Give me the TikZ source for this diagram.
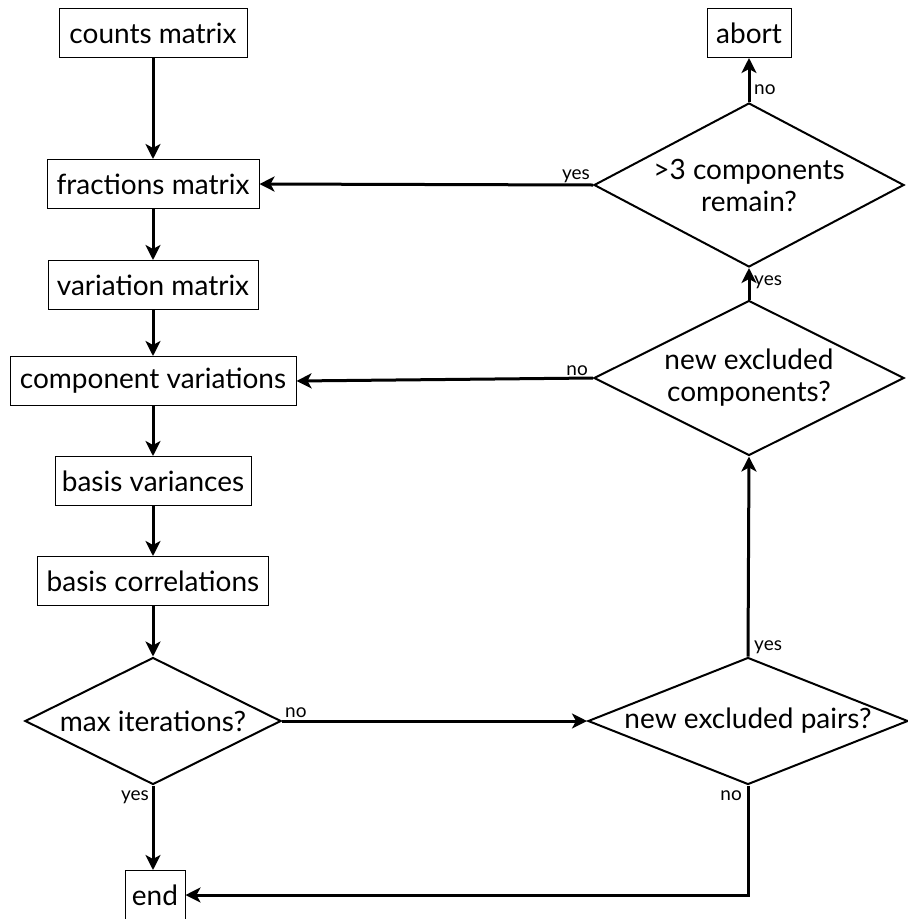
\documentclass[tikz,border=0pt]{standalone}
\usepackage{fontspec}
\setmainfont{Lato}
\usetikzlibrary{shapes.geometric,arrows.meta}

\begin{document}
\begin{tikzpicture}[x=1pt, y=-1pt,
  every node/.style={font=\fontsize{28}{32}\selectfont},
  stepbox/.style={draw, line width=1pt, minimum height=49pt, inner xsep=4pt},
  test/.style={diamond, draw, line width=2pt, inner sep=0pt, align=center},
  flow/.style={line width=3pt, -{Stealth[length=15pt, width=15pt, inset=4pt]}},
  tag/.style={font=\fontsize{19}{21}\selectfont, inner sep=1pt}]
  \useasboundingbox (0,0) rectangle (908,919);
  \node [stepbox, minimum width=188pt] (counts) at (153,33) {counts matrix};
  \node [stepbox, minimum width=212pt] (fractions) at (153,184) {fractions matrix};
  \node [stepbox, minimum width=210pt] (variation) at (153,285) {variation matrix};
  \node [stepbox, minimum width=286pt] (component) at (153,381) {component variations};
  \node [stepbox, minimum width=196pt] (basisvar) at (153,481) {basis variances};
  \node [stepbox, minimum width=231pt] (basiscorr) at (153,581) {basis correlations};
  \node [test, aspect=2, minimum width=256pt, minimum height=127pt] (maxit) at (153,721) {max iterations?};
  \node [stepbox, minimum width=60pt] (end) at (155,895) {end};
  \node [stepbox, minimum width=84pt] (abort) at (749,33) {abort};
  \node [test, aspect=1.9, minimum width=310pt, minimum height=164pt] (remain) at (749,185) {>3 components\\remain?};
  \node [test, aspect=2, minimum width=310pt, minimum height=155pt] (newcomp) at (749,378) {new excluded\\components?};
  \node [test, aspect=2.5, minimum width=320pt, minimum height=127pt] (pairs) at (748,721) {new excluded pairs?};
  \draw [flow] (counts) -- (fractions);
  \draw [flow] (fractions) -- (variation);
  \draw [flow] (variation) -- (component);
  \draw [flow] (component) -- (basisvar);
  \draw [flow] (basisvar) -- (basiscorr);
  \draw [flow] (basiscorr) -- (maxit);
  \draw [flow] (maxit.east) -- (pairs.west);
  \draw [flow] (maxit.south) -- (maxit.south |- end.north);
  \draw [flow] (pairs.south) |- (end.east);
  \draw [flow] (pairs.north) -- (newcomp.south);
  \draw [flow] (newcomp.north) -- (remain.south);
  \draw [flow] (newcomp.west) -- (component.east);
  \draw [flow] (remain.west) -- (fractions.east);
  \draw [flow] (remain.north) -- (abort.south);
  \node [tag, anchor=south west] (maxno) at ([xshift=2pt, yshift=2pt]maxit.east) {no};
  \node [tag, anchor=north east] (maxyes) at ([xshift=-3pt, yshift=-4pt]maxit.south) {yes};
  \node [tag, anchor=south west] (pairsyes) at ([xshift=5pt, yshift=2pt]pairs.north) {yes};
  \node [tag, anchor=north east] (pairsno) at ([xshift=-5pt, yshift=-4pt]pairs.south) {no};
  \node [tag, anchor=west] (newcompyes) at ([xshift=4pt, yshift=17pt]newcomp.north) {yes};
  \node [tag, anchor=south east] (newcompno) at ([xshift=-4pt, yshift=1pt]newcomp.west) {no};
  \node [tag, anchor=west] (remainno) at ([xshift=4pt, yshift=12pt]remain.north) {no};
  \node [tag, anchor=south east] (remainyes) at ([xshift=-2pt, yshift=1pt]remain.west) {yes};
\end{tikzpicture}
\end{document}
